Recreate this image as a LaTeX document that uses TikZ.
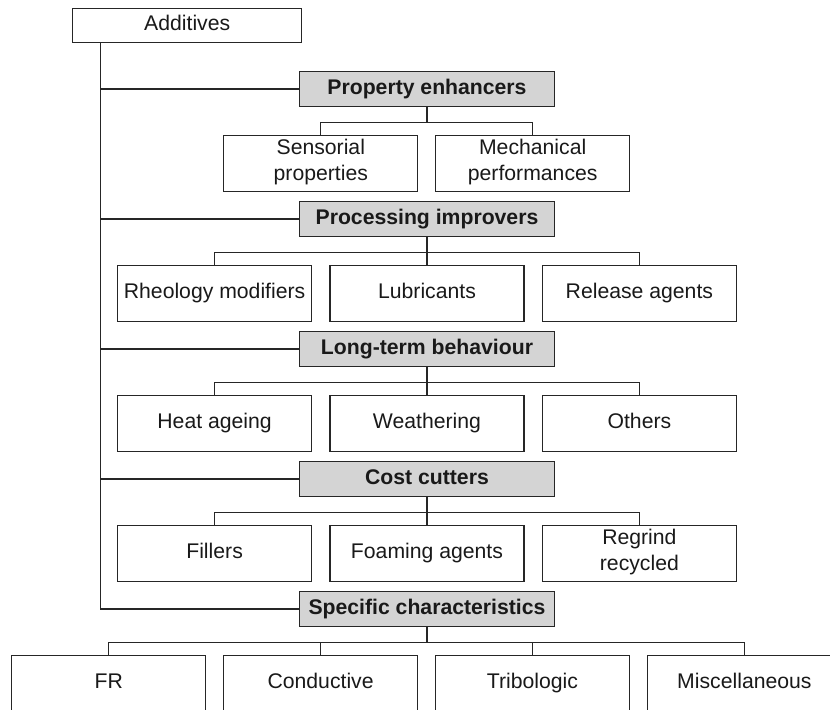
\documentclass[tikz,border=0pt]{standalone}
\usepackage{fontspec}
\setmainfont{Liberation Sans}
\usetikzlibrary{positioning}

\begin{document}
\begin{tikzpicture}[x=0.5pt, y=-0.5pt, line width=0.6pt, black!85,
	font=\fontsize{10.6}{13}\selectfont,
	item/.style={draw, minimum width=97pt, minimum height=28pt, align=center, inner sep=1pt, text=black!90,
		execute at begin node=\strut, execute at end node=\strut},
	group/.style={draw, fill=black!17, minimum width=127.7pt, minimum height=17.25pt, inner sep=1pt, text=black!90,
		font=\fontsize{10.6}{13}\selectfont\bfseries, execute at begin node=\strut}]
			\useasboundingbox (0,0) rectangle (830,710);
			
			\node[item, minimum width=114.5pt, minimum height=17pt] (add) at (187.2,25.3) {Additives};
			\coordinate (trunk) at ([xshift=14pt]add.south west);
			
			\node[group] (pe) at (427,89) {Property enhancers};
			\node[item] (sens) at (320.8,163.7) {Sensorial\\properties};
			\node[item] (mech) at (532.7,163.7) {Mechanical\\performances};
			
			\node[group] (pi) at (427,219) {Processing improvers};
			\node[item] (rheo) at (214.6,293.7) {Rheology modifiers};
			\node[item] (lub) at (427,293.7) {Lubricants};
			\node[item] (rel) at (639.4,293.7) {Release agents};
			
			\node[group] (lt) at (427,349) {Long-term behaviour};
			\node[item] (heat) at (214.6,423.7) {Heat ageing};
			\node[item] (weath) at (427,423.7) {Weathering};
			\node[item] (oth) at (639.4,423.7) {Others};
			
			\node[group] (cc) at (427,479) {Cost cutters};
			\node[item] (fil) at (214.6,553.7) {Fillers};
			\node[item] (foam) at (427,553.7) {Foaming agents};
			\node[item] (regr) at (639.4,553.7) {Regrind\\recycled};
			
			\node[group] (sc) at (427,609) {Specific characteristics};
			\node[item] (fr) at (108.7,683.7) {FR};
			\node[item] (cond) at (320.6,683.7) {Conductive};
			\node[item] (trib) at (532.5,683.7) {Tribologic};
			\node[item] (misc) at (744.4,683.7) {Miscellaneous};
			
			% tronco principal
			\draw (trunk) |- (sc.west);
			\foreach \g in {pe,pi,lt,cc}
				\draw (\g.west) -- (\g.west -| trunk);
			
			% ramas de cada grupo
			\coordinate (pebar) at ([yshift=-7.85pt]pe.south);
			\draw (sens.north) |- (pebar) -| (mech.north);
			\draw (pe.south) -- (pebar);
			\foreach \g/\a/\b in {pi/rheo/rel, lt/heat/oth, cc/fil/regr} {
				\coordinate (\g bar) at ([yshift=-7.85pt]\g.south);
				\draw (\a.north) |- (\g bar) -| (\b.north);
				\draw (\g.south) -- (\g.south |- \a.north);
			}
			\coordinate (scbar) at ([yshift=-7.85pt]sc.south);
			\draw (fr.north) |- (scbar) -| (misc.north);
			\draw (sc.south) -- (scbar);
			\draw (cond.north) -- (cond.north |- scbar);
			\draw (trib.north) -- (trib.north |- scbar);
		\end{tikzpicture}
\end{document}
